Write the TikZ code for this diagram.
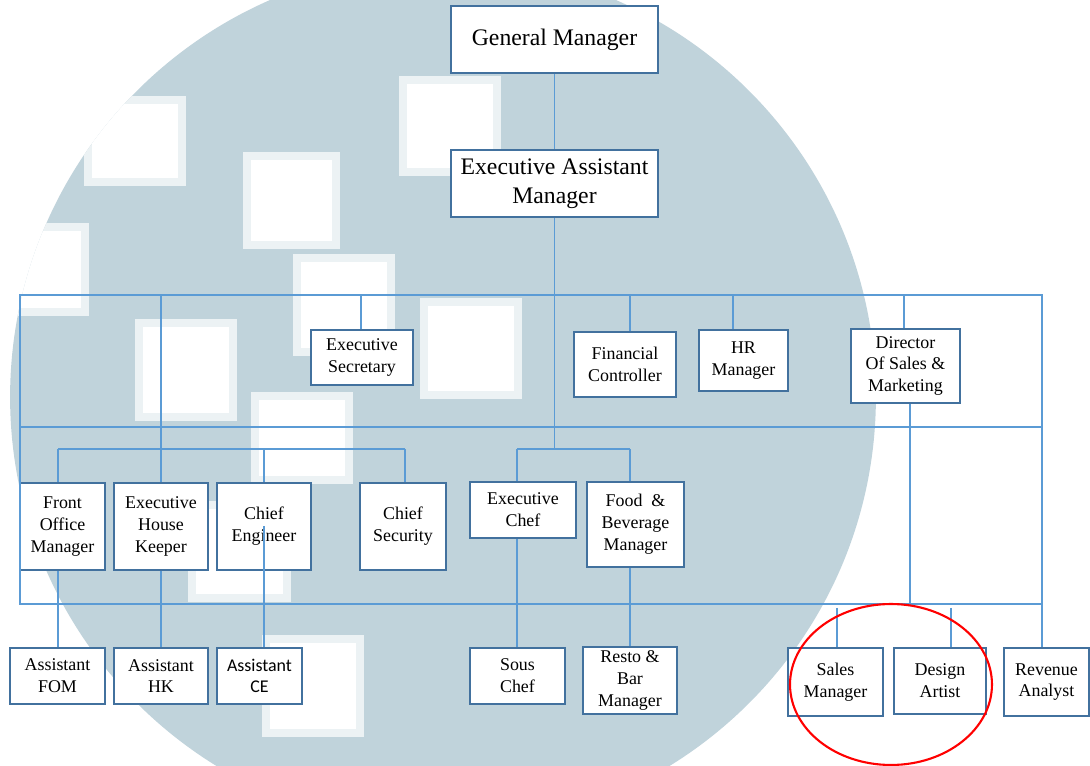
\documentclass[tikz,border=0pt]{standalone}
\usepackage{fontspec}
\setmainfont{Liberation Serif}
\newfontfamily\carlito{Carlito}
\definecolor{wmk}{RGB}{192,211,219}
\definecolor{boxc}{RGB}{66,113,158}
\definecolor{lnc}{RGB}{91,155,213}
\begin{document}
\begin{tikzpicture}[x=0.02cm,y=-0.02cm]
\tikzset{s/.style 2 args={draw=boxc,line width=1.3pt,fill=white,rectangle,align=center,inner sep=0pt,minimum width=#1*0.02cm,minimum height=#2*0.02cm,font=\fontsize{10.2}{12.4}\selectfont},
big/.style={font=\fontsize{13.5}{16.4}\selectfont},
ln/.style={draw=lnc,line width=0.6pt}}
\useasboundingbox(0,0)rectangle(1090,766);
%%Watermark
\begin{scope}
\clip(0,0)rectangle(1090,766);
\fill[wmk](443,397)circle[radius=8.66cm];
\clip(443,397)circle[radius=8.66cm];
\foreach \xa/\ya/\xb/\yb in {88/100/182/182,247/156/336/245,403/80/497/172,297/258/391/352,424/302/518/395,139/323/233/417,255/396/349/480,192/505/287/598,266/639/360/733,0/227/85/312}{
\fill[wmk!30](\xa-4,\ya-4)rectangle(\xb+4,\yb+4);
\fill[white](\xa+4,\ya+4)rectangle(\xb-4,\yb-4);}
\end{scope}
%%Node
\node[s={207}{67},big](GM)at(554.5,39.5){General Manager};
\node[s={207}{67},big](EAM)at(554.5,183.5){Executive Assistant\\Manager};
\node[s={102}{55}](ES)at(362,357.5){Executive\\Secretary};
\node[s={102}{65}](FC)at(625,364.5){Financial\\Controller};
\node[s={89}{61}](HR)at(743.5,360.5){HR\\Manager};
\node[s={109}{74}](DSM)at(905.5,366){Director\\Of Sales \&\\Marketing};
\node[s={85}{87}](FOM)at(62.5,526.5){Front\\Office\\Manager};
\node[s={94}{87}](EHK)at(161,526.5){Executive\\House\\Keeper};
\node[s={94}{87}](CE)at(264,526.5){Chief\\Engineer};
\node[s={86}{87}](CS)at(403,526.5){Chief\\Security};
\node[s={106}{56}](EC)at(523,510){Executive\\Chef};
\node[s={97}{85}](FB)at(635.5,524.5){Food~ \&\\Beverage\\Manager};
\node[s={95}{56}](AFOM)at(57.5,676){Assistant\\FOM};
\node[s={94}{56}](AHK)at(161,676){Assistant\\HK};
\node[s={85}{56},font=\carlito\fontsize{10.2}{12}\selectfont](ACE)at(259.5,676){Assistant\\CE};
\node[s={95}{56}](SC)at(517.5,676){Sous\\Chef};
\node[s={94}{67}](RBM)at(630,680.5){Resto \&\\Bar\\Manager};
\node[s={95}{68}](SM)at(835.5,682){Sales\\Manager};
\node[s={92}{66}](DA)at(940,681){Design\\Artist};
\node[s={85}{68}](RA)at(1046.5,682){Revenue\\Analyst};
%%Bus lines
\coordinate(tl)at(20,295);\coordinate(br)at(1042,604);
\coordinate(ml)at(20,427);\coordinate(mr)at(1042,427);
\coordinate(lb1)at(58,449);\coordinate(lb2)at(405,449);
\coordinate(kb1)at(517,449);\coordinate(kb2)at(630,449);
\draw[ln](tl)rectangle(br)(ml)--(mr)(lb1)--(lb2)(kb1)--(kb2);
\draw[ln](br)--(br|-RA.north);
\draw[ln](GM)--(EAM);
\draw[ln](EAM.south)--(EAM.south|-kb1);
\draw[ln](161,295)--(161,449);
\foreach \n/\x in {ES/361,FC/630,HR/733,DSM/904}
\draw[ln](\x,295)--(\n.north-|\x,0);
\foreach \n/\x in {FOM/58,EHK/161,CE/264,CS/405,EC/517,FB/630}
\draw[ln](\x,449)--(\n.north-|\x,0);
\foreach \a/\b/\x in {FOM/AFOM/58,EHK/AHK/161,EC/SC/517,FB/RBM/630}
\draw[ln](\a.south-|\x,0)--(\b.north-|\x,0);
\draw[ln](CE.center)--(ACE.north-|CE.center);
\draw[ln](DSM.south-|910,0)--(910,604);
\foreach \n/\x in {SM/837,DA/951}
\draw[ln](\x,608)--(\n.north-|\x,0);
%%Red mark
\draw[red,line width=1.2pt](891,684.5)ellipse[x radius=2.02cm,y radius=1.61cm];
\end{tikzpicture}
\end{document}
